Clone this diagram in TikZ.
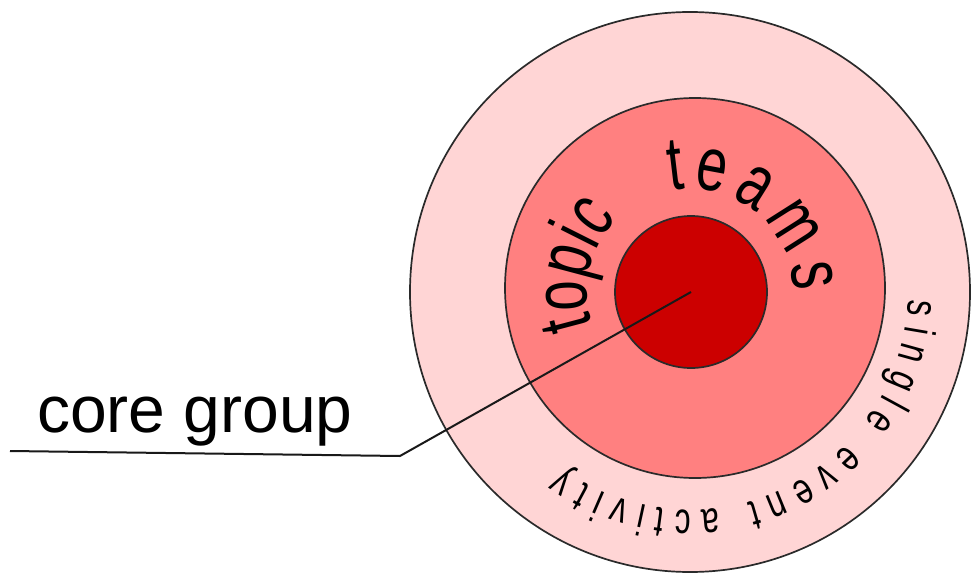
\documentclass[tikz,border=0pt]{standalone}
\usepackage{fontspec}
\setmainfont{Liberation Sans}
\newfontfamily\handfont[FakeStretch=0.72]{Liberation Sans}
\usetikzlibrary{
  calc,
  decorations.text
}
\definecolor{ringOuter}{HTML}{FFD5D5}
\definecolor{ringTopic}{HTML}{FF8080}
\definecolor{ringCore}{HTML}{CC0000}
\definecolor{ringLine}{HTML}{2A2A2A}
\newcommand{\topicfont}{\handfont\fontsize{76}{76}\selectfont}
\newcommand{\eventfont}{\handfont\fontsize{44}{44}\selectfont}
\tikzset{
  ring/.style={draw=ringLine, circle, inner sep=0pt, line width=1.7pt},
  outerring/.style={ring, fill=ringOuter, minimum size=560pt},
  topicring/.style={ring, fill=ringTopic, minimum size=380pt},
  corering/.style={ring, fill=ringCore, minimum size=152pt},
  leader/.style={line width=2pt, black!90, line join=round},
  corelabel/.style={font=\fontsize{66}{70}\selectfont, inner sep=0pt, anchor=base west},
  arctext/.style={decorate, decoration={text along path, text align={fit to path}, text={#1}}}
}
\begin{document}
\begin{tikzpicture}[x=1pt, y=1pt]
  \useasboundingbox (0,0) rectangle (971,574);
  % rings
  \node[outerring] (single) at (690,282) {};
  \node[topicring] (topic) at (695,286) {};
  \node[corering] (core) at (691,282) {};
  % pointer to the core
  \coordinate (bend) at (400,118);
  \coordinate (tail) at (10,123);
  \draw[leader] (core.center) -- (bend) -- (tail);
  \node[corelabel] (corelbl) at (37,142) {core group};
  % texts along the rings
  \path[arctext={|\topicfont|topic}] ($(single.center)+(199:103)$) arc[start angle=199, end angle=136, radius=103];
  \path[arctext={|\topicfont|teams}] ($(single.center)+(101:103)$) arc[start angle=101, end angle=0, radius=103];
  \path[arctext={|\eventfont|single event activity}] ($(single.center)+(-2:218)$) arc[start angle=-2, end angle=-126, radius=218];
\end{tikzpicture}
\end{document}
